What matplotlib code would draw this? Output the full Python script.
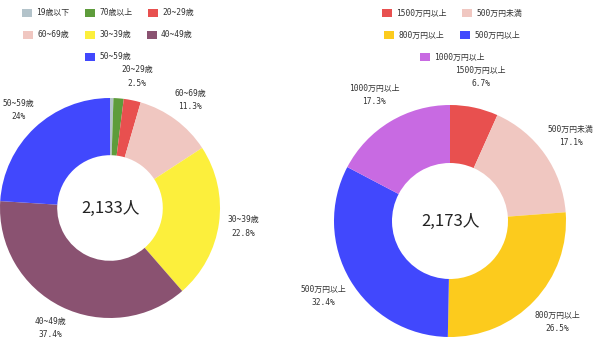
import matplotlib.pyplot as plt
from matplotlib.patches import Patch

plt.rcParams['font.family'] = ['Noto Sans CJK JP', 'DejaVu Sans']
MONO = ['DejaVu Sans Mono', 'Noto Sans CJK JP']

# 年齢構成
age_labels = ['19歳以下', '70歳以上', '20~29歳', '60~69歳', '30~39歳', '40~49歳', '50~59歳']
age_values = [0.5, 1.5, 2.5, 11.3, 22.8, 37.4, 24]
age_colors = ['#b3c3ca', '#5e9c3b', '#e8504f', '#f0c7c1', '#fcef3c', '#8a5271', '#4148fd']
age_shown = [False, False, True, True, True, True, True]
age_total = '2,133人'

# 年収構成
inc_labels = ['1500万円以上', '500万円未満', '800万円以上', '500万円以上', '1000万円以上']
inc_values = [6.7, 17.1, 26.5, 32.4, 17.3]
inc_colors = ['#e8504f', '#f0c7c1', '#fccb1d', '#4148fd', '#c86ae2']
inc_total = '2,173人'

W, H = 600, 338
fig = plt.figure(figsize=(W / 100, H / 100), dpi=100)


def donut(cx, cy, r, labels, values, colors, shown, total, ldist, hole):
    s = 320
    ax = fig.add_axes([(cx - s / 2) / W, (H - cy - s / 2) / H, s / W, s / H])
    lim = s / 2 / r
    texts = [f'{l}\n{v:g}%' if sh else '' for l, v, sh in zip(labels, values, shown)]
    _, lbls = ax.pie(values, colors=colors, labels=texts, startangle=90,
                     counterclock=False, labeldistance=ldist,
                     wedgeprops=dict(width=1 - hole, linewidth=0),
                     textprops=dict(fontsize=5.7, color='#333333', linespacing=1.6,
                                    family=MONO))
    for t in lbls:
        t.set_ha('center')
        t.set_va('center')
    ax.text(0, 0, total, ha='center', va='center', fontsize=12, color='#222222')
    ax.set_xlim(-lim, lim)
    ax.set_ylim(-lim, lim)
    ax.set_aspect('equal')
    ax.axis('off')


def legend_rows(rows, labels, colors, cx, ys):
    lookup = dict(zip(labels, colors))
    for row, y in zip(rows, ys):
        handles = [Patch(facecolor=lookup[n], edgecolor='none', label=n) for n in row]
        fig.legend(handles=handles, loc='center', bbox_to_anchor=(cx / W, 1 - y / H),
                   ncol=len(row), frameon=False, labelcolor='#333333',
                   prop=dict(family=MONO, size=5.7),
                   handlelength=1.25, handleheight=1.25, handletextpad=0.55,
                   columnspacing=2.0, borderpad=0)


donut(110, 208, 110, age_labels, age_values, age_colors, age_shown, age_total, 1.22, 0.48)
donut(450, 221, 116, inc_labels, inc_values, inc_colors, [True] * 5, inc_total, 1.27, 0.5)

legend_rows([age_labels[0:3], age_labels[3:6], age_labels[6:7]],
            age_labels, age_colors, 108, [13, 35, 57])
legend_rows([inc_labels[0:2], inc_labels[2:4], inc_labels[4:5]],
            inc_labels, inc_colors, 452, [13, 35, 57])

fig.savefig('out.png', dpi=100, facecolor='white')
